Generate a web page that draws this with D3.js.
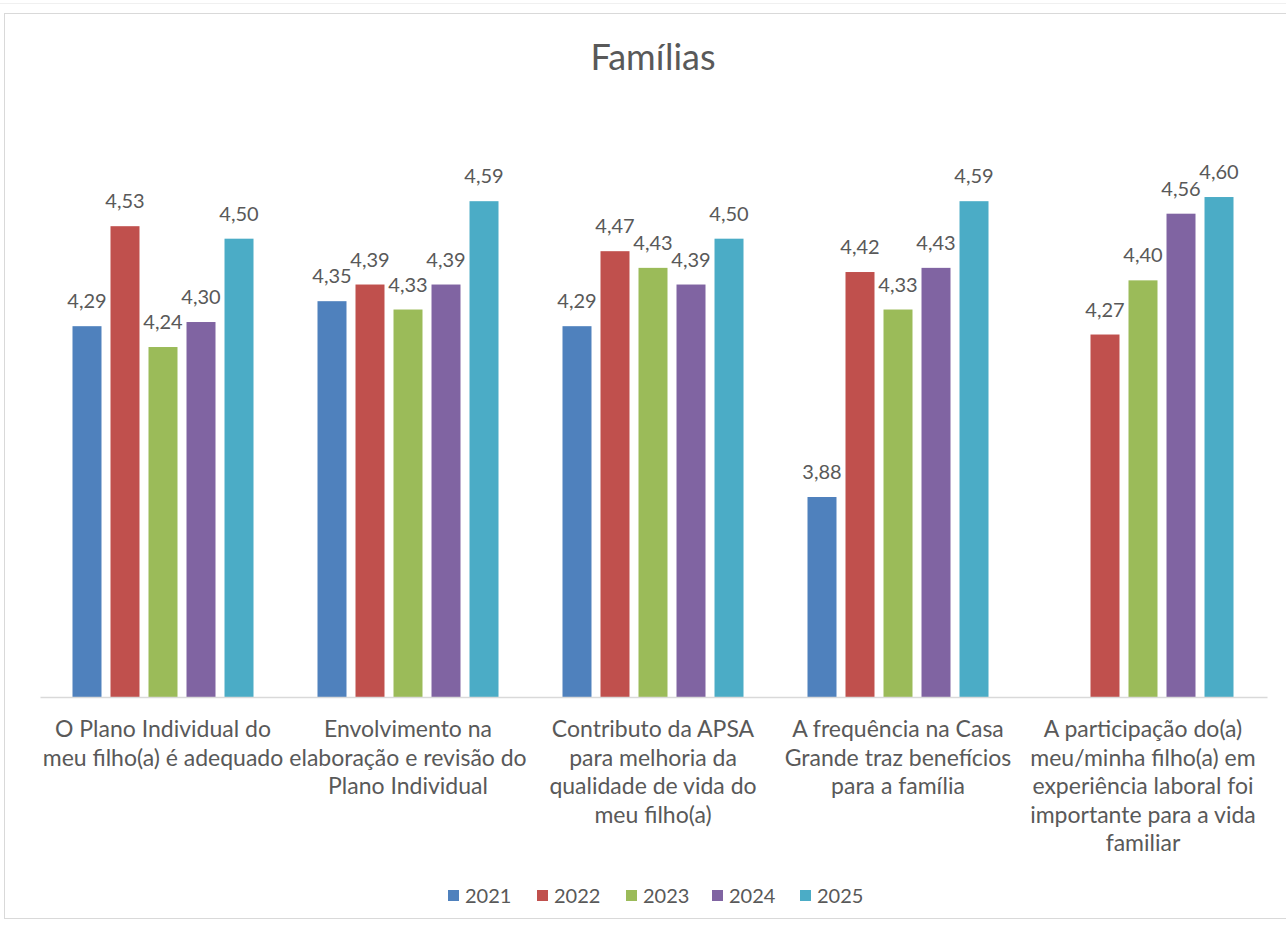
<!DOCTYPE html>
<html>
<head>
<meta charset="utf-8">
<script src="https://cdn.jsdelivr.net/npm/d3@7"></script>
<style>
  html, body { margin: 0; padding: 0; background: #ffffff; }
  svg { display: block; }
  text { font-family: Lato, "Open Sans", sans-serif; fill: #595959; }
</style>
</head>
<body>
<svg id="chart" width="1286" height="927"></svg>
<script>
const categories = [
  ["O Plano Individual do", "meu filho(a) é adequado"],
  ["Envolvimento na", "elaboração e revisão do", "Plano Individual"],
  ["Contributo da APSA", "para melhoria da", "qualidade de vida do", "meu filho(a)"],
  ["A frequência na Casa", "Grande traz benefícios", "para a família"],
  ["A participação do(a)", "meu/minha filho(a) em", "experiência laboral foi", "importante para a vida", "familiar"]
];
const seriesNames = ["2021", "2022", "2023", "2024", "2025"];
const v2021 = [4.29, 4.35, 4.29, 3.88, null];
const v2022 = [4.53, 4.39, 4.47, 4.42, 4.27];
const v2023 = [4.24, 4.33, 4.43, 4.33, 4.40];
const v2024 = [4.30, 4.39, 4.39, 4.43, 4.56];
const v2025 = [4.50, 4.59, 4.50, 4.59, 4.60];
const colors = ["#4F81BD", "#C0504D", "#9BBB59", "#8064A2", "#4BACC6"];
const yDomain = [3.4, 4.8];

const seriesValues = [v2021, v2022, v2023, v2024, v2025];
const svg = d3.select("#chart");

// outer frame
svg.append("line").attr("x1", 0).attr("x2", 1286).attr("y1", 3.5).attr("y2", 3.5)
  .attr("stroke", "#f0f0f0").attr("stroke-width", 1);
svg.append("rect").attr("x", 4.5).attr("y", 13.5).attr("width", 1290).attr("height", 905)
  .attr("fill", "none").attr("stroke", "#d9d9d9").attr("stroke-width", 1);

const plot = {left: 40.5, right: 1265.5, top: 113.7, bottom: 697};

const x0 = d3.scaleBand().domain(d3.range(categories.length))
  .range([plot.left, plot.right]).paddingInner(0).paddingOuter(0);
const x1 = d3.scaleBand().domain(seriesNames)
  .range([0, x0.bandwidth()]).paddingInner(0.237).paddingOuter(0.842);
const y = d3.scaleLinear().domain(yDomain).range([plot.bottom, plot.top]);

// title
svg.append("text").attr("x", 653).attr("y", 70).attr("text-anchor", "middle")
  .style("font-size", "36px").text("Famílias");

// bars
const groups = svg.append("g").selectAll("g").data(categories).join("g")
  .attr("transform", (d, i) => `translate(${x0(i)},0)`);

groups.each(function(cat, ci) {
  const g = d3.select(this);
  seriesNames.forEach((s, si) => {
    const v = seriesValues[si][ci];
    if (v == null) return;
    g.append("rect")
      .attr("x", x1(s)).attr("width", x1.bandwidth())
      .attr("y", y(v)).attr("height", y(yDomain[0]) - y(v))
      .attr("fill", colors[si]);
    g.append("text")
      .attr("x", x1(s) + x1.bandwidth() / 2)
      .attr("y", y(v) - 18)
      .attr("text-anchor", "middle")
      .style("font-size", "20px")
      .text(d3.format(".2f")(v).replace(".", ","));
  });
});

// baseline axis
svg.append("line").attr("x1", plot.left).attr("x2", plot.right + 2)
  .attr("y1", plot.bottom + 0.5).attr("y2", plot.bottom + 0.5)
  .attr("stroke", "#d9d9d9").attr("stroke-width", 1.5);

// category labels
categories.forEach((lines, i) => {
  const t = svg.append("text").attr("text-anchor", "middle")
    .style("font-size", "23px");
  lines.forEach((ln, k) => {
    t.append("tspan").attr("x", x0(i) + x0.bandwidth() / 2)
      .attr("y", 737 + k * 28.5).text(ln);
  });
});

// legend
const legendX = [448, 537, 626, 712, 800];
const lg = svg.append("g");
seriesNames.forEach((s, i) => {
  lg.append("rect").attr("x", legendX[i]).attr("y", 890).attr("width", 11).attr("height", 11)
    .attr("fill", colors[i]);
  lg.append("text").attr("x", legendX[i] + 17).attr("y", 903)
    .style("font-size", "20px").text(s);
});
</script>
</body>
</html>
